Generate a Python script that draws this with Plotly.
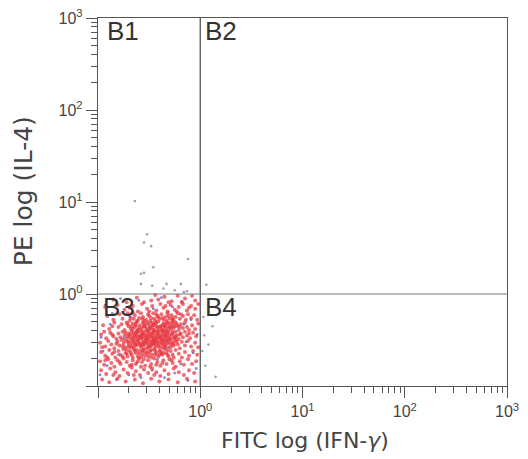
import plotly.graph_objects as go

# ---- data (log10 units) ----
red_pts = [
(-0.62,-0.04),(-0.48,-0.07),(-0.35,-0.03),(-0.28,-0.08),(-0.15,-0.05),(-0.08,-0.02),(-0.72,-0.09),(-0.41,-0.06),(-0.22,-0.02),(-0.55,-0.09),(-0.05,-0.07),(-0.31,-0.09),(-0.85,-0.06),(-0.18,-0.09),(-0.44,-0.01),
(-0.81,-0.12),(-0.74,-0.17),(-0.66,-0.13),(-0.61,-0.19),(-0.57,-0.11),(-0.52,-0.16),(-0.47,-0.13),(-0.43,-0.18),(-0.39,-0.11),(-0.36,-0.15),(-0.32,-0.19),(-0.29,-0.12),(-0.25,-0.17),(-0.21,-0.14),(-0.17,-0.11),(-0.13,-0.18),(-0.09,-0.13),(-0.05,-0.16),(-0.02,-0.11),(-0.69,-0.15),(-0.50,-0.19),(-0.34,-0.13),(-0.23,-0.19),(-0.93,-0.14),(-0.11,-0.15),
(-0.91,-0.24),(-0.85,-0.28),(-0.79,-0.22),(-0.76,-0.27),(-0.71,-0.21),(-0.68,-0.26),(-0.64,-0.23),(-0.61,-0.29),(-0.58,-0.21),(-0.56,-0.25),(-0.53,-0.28),(-0.51,-0.22),(-0.48,-0.26),(-0.46,-0.21),(-0.44,-0.29),(-0.42,-0.24),(-0.40,-0.27),(-0.38,-0.22),(-0.36,-0.28),(-0.34,-0.25),(-0.32,-0.21),(-0.30,-0.27),(-0.28,-0.23),(-0.26,-0.29),(-0.24,-0.25),(-0.22,-0.21),(-0.20,-0.27),(-0.17,-0.24),(-0.14,-0.28),(-0.12,-0.22),(-0.09,-0.26),(-0.06,-0.23),(-0.03,-0.28),(-0.57,-0.27),(-0.43,-0.22),(-0.33,-0.29),(-0.27,-0.26),(-0.49,-0.29),(-0.66,-0.20),(-0.19,-0.22),
(-0.95,-0.34),(-0.89,-0.38),(-0.84,-0.31),(-0.80,-0.36),(-0.77,-0.33),(-0.74,-0.39),(-0.72,-0.31),(-0.70,-0.35),(-0.68,-0.38),(-0.66,-0.32),(-0.64,-0.36),(-0.62,-0.30),(-0.61,-0.39),(-0.59,-0.34),(-0.57,-0.37),(-0.56,-0.31),(-0.54,-0.35),(-0.53,-0.39),(-0.51,-0.33),(-0.50,-0.37),(-0.48,-0.31),(-0.47,-0.36),(-0.45,-0.39),(-0.44,-0.33),(-0.42,-0.37),(-0.41,-0.30),(-0.39,-0.35),(-0.38,-0.38),(-0.36,-0.32),(-0.35,-0.36),(-0.33,-0.39),(-0.32,-0.31),(-0.30,-0.35),(-0.29,-0.38),(-0.27,-0.33),(-0.26,-0.37),(-0.24,-0.31),(-0.22,-0.35),(-0.21,-0.39),(-0.19,-0.33),(-0.17,-0.37),(-0.15,-0.31),(-0.13,-0.36),(-0.11,-0.39),(-0.08,-0.34),(-0.05,-0.38),(-0.02,-0.32),(-0.63,-0.34),(-0.55,-0.33),(-0.49,-0.35),(-0.43,-0.35),(-0.37,-0.34),(-0.31,-0.37),(-0.25,-0.35),(-0.58,-0.39),(-0.46,-0.32),(-0.34,-0.33),(-0.28,-0.31),(-0.20,-0.36),(-0.86,-0.35),
(-0.97,-0.44),(-0.92,-0.48),(-0.88,-0.42),(-0.85,-0.46),(-0.82,-0.49),(-0.80,-0.43),(-0.78,-0.47),(-0.76,-0.41),(-0.74,-0.45),(-0.72,-0.49),(-0.70,-0.43),(-0.69,-0.47),(-0.67,-0.41),(-0.66,-0.45),(-0.64,-0.49),(-0.63,-0.43),(-0.61,-0.47),(-0.60,-0.41),(-0.58,-0.45),(-0.57,-0.49),(-0.55,-0.43),(-0.54,-0.47),(-0.52,-0.41),(-0.51,-0.45),(-0.50,-0.49),(-0.48,-0.43),(-0.47,-0.47),(-0.45,-0.41),(-0.44,-0.45),(-0.43,-0.49),(-0.41,-0.43),(-0.40,-0.47),(-0.38,-0.41),(-0.37,-0.45),(-0.36,-0.49),(-0.34,-0.43),(-0.33,-0.47),(-0.31,-0.41),(-0.30,-0.45),(-0.29,-0.49),(-0.27,-0.43),(-0.26,-0.47),(-0.24,-0.41),(-0.23,-0.45),(-0.21,-0.49),(-0.19,-0.43),(-0.17,-0.47),(-0.15,-0.41),(-0.13,-0.45),(-0.10,-0.48),(-0.07,-0.42),(-0.04,-0.46),(-0.62,-0.45),(-0.56,-0.44),(-0.49,-0.46),(-0.42,-0.44),(-0.35,-0.46),(-0.28,-0.44),(-0.53,-0.49),(-0.46,-0.42),(-0.39,-0.48),(-0.32,-0.42),(-0.25,-0.48),(-0.59,-0.48),(-0.65,-0.42),(-0.71,-0.46),(-0.20,-0.44),(-0.94,-0.41),(-0.86,-0.44),(-0.11,-0.43),
(-0.98,-0.53),(-0.93,-0.57),(-0.90,-0.51),(-0.87,-0.55),(-0.84,-0.59),(-0.81,-0.52),(-0.79,-0.56),(-0.77,-0.50),(-0.75,-0.54),(-0.73,-0.58),(-0.71,-0.52),(-0.70,-0.56),(-0.68,-0.50),(-0.67,-0.54),(-0.65,-0.58),(-0.64,-0.52),(-0.62,-0.56),(-0.61,-0.50),(-0.59,-0.54),(-0.58,-0.58),(-0.56,-0.52),(-0.55,-0.56),(-0.53,-0.50),(-0.52,-0.54),(-0.51,-0.58),(-0.49,-0.52),(-0.48,-0.56),(-0.46,-0.50),(-0.45,-0.54),(-0.44,-0.58),(-0.42,-0.52),(-0.41,-0.56),(-0.39,-0.50),(-0.38,-0.54),(-0.37,-0.58),(-0.35,-0.52),(-0.34,-0.56),(-0.32,-0.50),(-0.31,-0.54),(-0.29,-0.58),(-0.27,-0.52),(-0.26,-0.56),(-0.24,-0.50),(-0.22,-0.55),(-0.20,-0.59),(-0.18,-0.52),(-0.15,-0.56),(-0.12,-0.51),(-0.09,-0.57),(-0.05,-0.53),(-0.60,-0.53),(-0.54,-0.53),(-0.47,-0.53),(-0.40,-0.53),(-0.33,-0.53),(-0.57,-0.55),(-0.50,-0.55),(-0.43,-0.55),(-0.36,-0.55),(-0.63,-0.55),(-0.69,-0.58),(-0.76,-0.57),(-0.82,-0.54),(-0.96,-0.58),(-0.28,-0.55),(-0.23,-0.52),(-0.66,-0.51),(-0.52,-0.59),(-0.45,-0.51),(-0.02,-0.58),
(-0.97,-0.63),(-0.93,-0.67),(-0.89,-0.61),(-0.86,-0.65),(-0.83,-0.69),(-0.80,-0.62),(-0.78,-0.66),(-0.75,-0.60),(-0.73,-0.64),(-0.71,-0.68),(-0.69,-0.62),(-0.67,-0.66),(-0.65,-0.60),(-0.63,-0.64),(-0.61,-0.68),(-0.59,-0.62),(-0.57,-0.66),(-0.55,-0.60),(-0.53,-0.64),(-0.51,-0.68),(-0.49,-0.62),(-0.47,-0.66),(-0.45,-0.60),(-0.43,-0.64),(-0.41,-0.68),(-0.39,-0.62),(-0.37,-0.66),(-0.35,-0.60),(-0.33,-0.64),(-0.31,-0.68),(-0.29,-0.62),(-0.27,-0.66),(-0.24,-0.61),(-0.21,-0.65),(-0.18,-0.69),(-0.15,-0.63),(-0.11,-0.67),(-0.07,-0.62),(-0.03,-0.66),(-0.62,-0.61),(-0.56,-0.63),(-0.50,-0.65),(-0.44,-0.62),(-0.38,-0.64),(-0.32,-0.61),(-0.66,-0.69),(-0.58,-0.69),(-0.48,-0.69),(-0.40,-0.66),(-0.84,-0.63),(-0.91,-0.69),(-0.72,-0.65),(-0.26,-0.69),(-0.54,-0.67),(-0.76,-0.68),
(-0.98,-0.73),(-0.94,-0.77),(-0.90,-0.71),(-0.87,-0.75),(-0.84,-0.79),(-0.81,-0.72),(-0.78,-0.76),(-0.75,-0.70),(-0.72,-0.74),(-0.69,-0.78),(-0.66,-0.72),(-0.63,-0.76),(-0.60,-0.70),(-0.57,-0.74),(-0.54,-0.78),(-0.51,-0.72),(-0.48,-0.76),(-0.45,-0.70),(-0.42,-0.74),(-0.39,-0.78),(-0.36,-0.72),(-0.33,-0.76),(-0.30,-0.71),(-0.27,-0.75),(-0.24,-0.79),(-0.20,-0.73),(-0.16,-0.77),(-0.12,-0.71),(-0.08,-0.76),(-0.04,-0.73),(-0.61,-0.73),(-0.55,-0.71),(-0.49,-0.79),(-0.43,-0.77),(-0.37,-0.75),(-0.67,-0.77),(-0.79,-0.74),(-0.93,-0.72),(-0.58,-0.79),(-0.28,-0.72),
(-0.97,-0.83),(-0.92,-0.87),(-0.88,-0.81),(-0.83,-0.85),(-0.79,-0.89),(-0.75,-0.82),(-0.71,-0.86),(-0.67,-0.80),(-0.63,-0.84),(-0.59,-0.88),(-0.55,-0.82),(-0.51,-0.86),(-0.47,-0.81),(-0.43,-0.85),(-0.39,-0.89),(-0.35,-0.83),(-0.31,-0.87),(-0.26,-0.81),(-0.21,-0.85),(-0.16,-0.88),(-0.11,-0.83),(-0.06,-0.86),(-0.65,-0.88),(-0.85,-0.88),(-0.45,-0.88),
(-0.96,-0.93),(-0.89,-0.96),(-0.81,-0.92),(-0.73,-0.95),(-0.64,-0.93),(-0.56,-0.97),(-0.48,-0.92),(-0.40,-0.95),(-0.31,-0.93),(-0.22,-0.96),(-0.13,-0.92),(-0.05,-0.95),
]
red_core_pts = [
(-0.69,-0.29),(-0.65,-0.27),(-0.60,-0.26),(-0.55,-0.29),(-0.50,-0.24),(-0.45,-0.27),(-0.41,-0.25),(-0.37,-0.26),(-0.31,-0.24),(-0.27,-0.28),
(-0.71,-0.33),(-0.67,-0.35),(-0.63,-0.32),(-0.60,-0.37),(-0.55,-0.35),(-0.52,-0.31),(-0.49,-0.38),(-0.46,-0.34),(-0.43,-0.31),(-0.40,-0.36),(-0.37,-0.39),(-0.34,-0.35),(-0.31,-0.32),(-0.28,-0.36),(-0.23,-0.33),
(-0.73,-0.42),(-0.69,-0.44),(-0.66,-0.48),(-0.62,-0.42),(-0.59,-0.46),(-0.56,-0.41),(-0.53,-0.45),(-0.50,-0.42),(-0.47,-0.45),(-0.45,-0.48),(-0.42,-0.41),(-0.39,-0.45),(-0.36,-0.42),(-0.33,-0.45),(-0.30,-0.48),(-0.27,-0.41),(-0.24,-0.46),
(-0.74,-0.51),(-0.70,-0.53),(-0.67,-0.57),(-0.64,-0.54),(-0.61,-0.51),(-0.58,-0.56),(-0.55,-0.53),(-0.52,-0.51),(-0.49,-0.57),(-0.46,-0.54),(-0.43,-0.51),(-0.40,-0.58),(-0.37,-0.52),(-0.34,-0.58),(-0.30,-0.52),(-0.26,-0.54),
(-0.72,-0.61),(-0.68,-0.64),(-0.64,-0.62),(-0.60,-0.65),(-0.56,-0.61),(-0.52,-0.63),(-0.48,-0.61),(-0.44,-0.66),(-0.40,-0.62),(-0.36,-0.64),(-0.32,-0.66),
(-0.66,-0.38),(-0.62,-0.40),(-0.57,-0.43),(-0.51,-0.40),(-0.46,-0.39),(-0.41,-0.40),(-0.35,-0.40),(-0.64,-0.46),(-0.57,-0.47),(-0.52,-0.48),(-0.47,-0.51),(-0.42,-0.47),(-0.37,-0.50),(-0.33,-0.50),
]
blue_pts = [
(-0.93,-0.12),(-0.86,-0.21),(-0.78,-0.05),(-0.95,-0.62),(-0.91,-0.78),(-0.82,-0.93),(-0.70,-0.88),(-0.58,-0.91),(-0.47,-0.83),(-0.35,-0.91),(-0.25,-0.86),(-0.12,-0.94),(-0.04,-0.81),(-0.07,-0.64),(-0.14,-0.52),(-0.03,-0.44),(-0.09,-0.28),(-0.18,-0.08),(-0.38,-0.04),(-0.60,-0.07),(-0.88,-0.33),(-0.97,-0.47),(-0.80,-0.66),(-0.62,-0.75),(-0.42,-0.71),(-0.19,-0.76),(-0.53,-0.37),(-0.31,-0.58),(-0.69,-0.25),(-0.75,-0.48),(-0.98,-0.88),(-0.16,-0.33),(-0.46,-0.16),(-0.27,-0.14),
]
grey_pts = [
(-0.64,1.01),(-0.52,0.65),(-0.55,0.56),(-0.48,0.52),(-0.12,0.38),(-0.46,0.29),(-0.58,0.22),(-0.55,0.23),(-0.58,0.11),(-0.47,0.09),(-0.36,0.06),(-0.33,0.11),(-0.19,0.11),(-0.25,0.04),(-0.16,0.02),(-0.13,0.03),(0.06,0.10),
(0.03,-0.25),(0.08,-0.55),(0.05,-0.78),(0.12,-0.35),(0.02,-0.62),(0.15,-0.90),(0.04,-0.45),
]
major_ticks = [0.1, 1, 10, 100, 1000]
major_labels = ["", "10<sup>0</sup>", "10<sup>1</sup>", "10<sup>2</sup>", "10<sup>3</sup>"]
quadrant_labels = ["B1", "B2", "B3", "B4"]
x_title = "FITC log (IFN-<i>γ</i>)"
y_title = "PE log (IL-4)"

minor_ticks = [m * 10 ** k for k in range(-1, 3) for m in range(2, 10)]

def unz(pts):
    return [10 ** p[0] for p in pts], [10 ** p[1] for p in pts]

fig = go.Figure()
for pts, col, sz, op in [(blue_pts, "#6f73c8", 2.8, 0.85), (grey_pts, "#8a8a96", 2.6, 0.8),
                         (red_pts, "#e8343f", 4.0, 0.72), (red_core_pts, "#e8343f", 4.0, 0.72)]:
    xs, ys = unz(pts)
    fig.add_trace(go.Scatter(x=xs, y=ys, mode="markers",
                             marker=dict(size=sz, color=col, opacity=op, line=dict(width=0)),
                             showlegend=False, hoverinfo="skip"))

FONT = "Liberation Sans, Arial, sans-serif"
TFONT = "DejaVu Sans, sans-serif"
axis_common = dict(
    type="log", range=[-1, 3], tickmode="array", tickvals=major_ticks, ticktext=major_labels,
    ticks="outside", ticklen=11, tickwidth=1.2, tickcolor="#555",
    minor=dict(tickmode="array", tickvals=minor_ticks, ticks="outside", ticklen=6, tickwidth=1.1, tickcolor="#555"),
    showline=True, linecolor="#555", linewidth=1.4, mirror=True,
    showgrid=False, zeroline=False, automargin=False, ticklabeloverflow="allow",
    tickfont=dict(family=FONT, size=16, color="#444"),
)
fig.update_xaxes(**axis_common)
fig.update_yaxes(**axis_common)

# quadrant lines
fig.add_shape(type="line", xref="x", yref="paper", x0=1, x1=1, y0=0, y1=1, line=dict(color="#555", width=1.3))
fig.add_shape(type="line", xref="paper", yref="y", x0=0, x1=1, y0=1, y1=1, line=dict(color="#777", width=1))

label_pos = [(-0.93, 3.0), (0.03, 3.0), (-0.97, 0.0), (0.03, 0.0)]
for lab, (lx, ly) in zip(quadrant_labels, label_pos):
    fig.add_annotation(x=lx, y=ly, xref="x", yref="y", text=lab, showarrow=False, yshift=4,
                       xanchor="left", yanchor="top", font=dict(family=FONT, size=26, color="#333"))

fig.add_annotation(x=0.506, y=-0.148, xref="paper", yref="paper", text=x_title, showarrow=False,
                   xanchor="center", yanchor="middle", font=dict(family=TFONT, size=22, color="#444"))
fig.add_annotation(x=-0.18, y=0.53, xref="paper", yref="paper", text=y_title, showarrow=False,
                   textangle=-90, xanchor="center", yanchor="middle", font=dict(family=TFONT, size=25, color="#444"))

# page body adds an 8px margin, so the figure is 8px smaller and margins shifted
fig.update_layout(width=520, height=451, margin=dict(l=90, r=21, t=10, b=73),
                  paper_bgcolor="white", plot_bgcolor="white")
fig.write_html("out.html")
